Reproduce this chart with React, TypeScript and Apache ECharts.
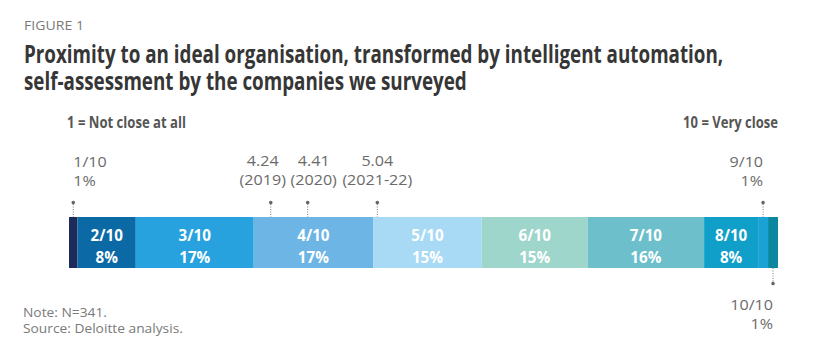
import React, { useEffect, useRef } from "react";
import * as echarts from "echarts";

const categories = ["1/10", "2/10", "3/10", "4/10", "5/10", "6/10", "7/10", "8/10", "9/10", "10/10"];
const shares = [1.2, 8.2, 16.6, 16.8, 15.3, 14.9, 16.4, 7.6, 1.4, 1.4];
const percentLabels = ["1%", "8%", "17%", "17%", "15%", "15%", "16%", "8%", "1%", "1%"];
const colors = ["#1d2a5c", "#0b69a6", "#27a2de", "#6cb5e4", "#a8daf5", "#9fd6cc", "#6cbfcb", "#0f9fc8", "#1ba2d4", "#0b889f"];
const scoreValues = ["4.24", "4.41", "5.04"];
const scoreYears = ["(2019)", "(2020)", "(2021-22)"];
const scorePositions = [28.4, 33.6, 43.4];

const titleLines = [
  "Proximity to an ideal organisation, transformed by intelligent automation,",
  "self-assessment by the companies we surveyed",
];
const noteLines = ["Note: N=341.", "Source: Deloitte analysis."];

const FONT = '"Open Sans", "Noto Sans", sans-serif';

function measure(text: string, font: string) {
  const ctx = document.createElement("canvas").getContext("2d")!;
  ctx.font = font;
  return ctx.measureText(text).width;
}

export default function App() {
  const ref = useRef<HTMLDivElement>(null);
  useEffect(() => {
    document.body.style.margin = "0";
    const chart = echarts.init(ref.current!, null, { renderer: "svg" });
    const total = shares.reduce((a, b) => a + b, 0);
    chart.setOption({
      animation: false,
      grid: { left: 69, right: 37, top: 217, height: 51 },
      xAxis: { type: "value", min: 0, max: total, show: false },
      yAxis: { type: "category", data: ["score"], show: false },
      series: categories.map((c, i) => ({
        type: "bar",
        name: c,
        stack: "all",
        data: [shares[i]],
        barWidth: 51,
        silent: true,
        z: 2,
        itemStyle: { color: colors[i] },
      })),
    });

    const px = (v: number) => (chart.convertToPixel({ gridIndex: 0 }, [v, 0]) as number[])[0];
    const cum: number[] = [];
    let acc = 0;
    shares.forEach((s) => {
      cum.push(acc);
      acc += s;
    });
    const mid = (i: number) => px(cum[i] + shares[i] / 2);

    const titleFont = `bold 25px ${FONT}`;
    const titleScale = 700 / measure(titleLines[0], titleFont);
    const subFont = `bold 16px ${FONT}`;
    const leftScale = 119 / measure("1 = Not close at all", subFont);
    const rightScale = 95 / measure("10 = Very close", subFont);
    const figFont = `13px ${FONT}`;
    const figScale = 60 / measure("FIGURE 1", figFont);
    const noteFont = `12px ${FONT}`;
    const noteScale = 160 / measure(noteLines[1], noteFont);
    const labelFont = `14px ${FONT}`;
    const labelScale = 70 / measure("(2021-22)", labelFont);

    const g: any[] = [];
    g.push({
      type: "text", x: 24, y: 25.5, scaleX: figScale, z: 100,
      style: { text: "FIGURE 1", font: figFont, fill: "#7a7a7a", verticalAlign: "middle" },
    });
    titleLines.forEach((t, i) =>
      g.push({
        type: "text", x: 24, y: 53 + i * 27, scaleX: titleScale, z: 100,
        style: { text: t, font: titleFont, fill: "#363636", verticalAlign: "middle" },
      })
    );
    g.push({
      type: "text", x: 67, y: 121, scaleX: leftScale, z: 100,
      style: { text: "1 = Not close at all", font: subFont, fill: "#555", verticalAlign: "middle" },
    });
    g.push({
      type: "text", x: 778, y: 121, scaleX: rightScale, z: 100,
      style: { text: "10 = Very close", font: subFont, fill: "#555", align: "right", verticalAlign: "middle" },
    });

    const gray = "#6b6b6b";
    const twoLine = (x: number, cy: number, a: string, b: string, align: string) =>
      g.push({
        type: "text", x, y: cy, z: 100, scaleX: labelScale,
        style: { text: a + "\n" + b, font: labelFont, fill: gray, align, verticalAlign: "middle", lineHeight: 19.5 },
      });
    const topMarker = (x: number) => {
      g.push({ type: "line", z: 100, shape: { x1: x, y1: 204, x2: x, y2: 217 }, style: { stroke: "#777", lineWidth: 1, lineDash: [1, 1.5] } });
      g.push({ type: "circle", z: 100, shape: { cx: x, cy: 202.5, r: 1.8 }, style: { fill: "#666" } });
    };

    // 1/10 outside label
    const x1 = mid(0);
    topMarker(x1);
    twoLine(x1, 171, categories[0], percentLabels[0], "left");

    // 9/10 outside label
    const x9 = mid(8);
    topMarker(x9);
    twoLine(x9, 171, categories[8], percentLabels[8], "right");

    // 10/10 outside label below
    const x10 = mid(9);
    g.push({ type: "line", z: 100, shape: { x1: x10, y1: 268, x2: x10, y2: 282 }, style: { stroke: "#777", lineWidth: 1, lineDash: [1, 1.5] } });
    g.push({ type: "circle", z: 100, shape: { cx: x10, cy: 283.5, r: 1.8 }, style: { fill: "#666" } });
    twoLine(x10, 314, categories[9], percentLabels[9], "right");

    // score markers
    const labelOffsets = [-8, 6, 0];
    scorePositions.forEach((p, i) => {
      const x = px(p);
      topMarker(x);
      twoLine(x + labelOffsets[i], 170, scoreValues[i], scoreYears[i], "center");
    });

    // inner labels
    for (let i = 1; i <= 7; i++) {
      const x = mid(i);
      g.push({
        type: "text", x, y: 245.5, scaleX: 0.95, z: 100,
        style: {
          text: categories[i] + "\n" + percentLabels[i], font: `bold 16px ${FONT}`, fill: "#ffffff",
          align: "center", verticalAlign: "middle", lineHeight: 22,
        },
      });
    }

    // notes
    g.push({
      type: "text", x: 23, y: 320.5, scaleX: noteScale, z: 100,
      style: { text: noteLines.join("\n"), font: noteFont, fill: "#7a7a7a", verticalAlign: "middle", lineHeight: 16.5 },
    });

    chart.setOption({ graphic: g });
    return () => chart.dispose();
  }, []);
  return <div ref={ref} style={{ width: 815, height: 364, background: "#fff" }} />;
}
